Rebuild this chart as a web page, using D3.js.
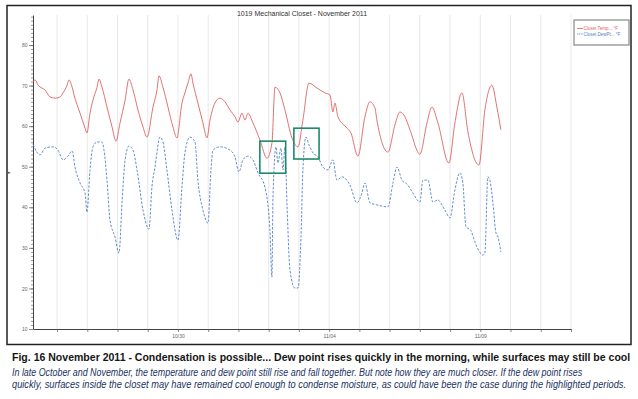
<!DOCTYPE html>
<html>
<head>
<meta charset="utf-8">
<script src="https://cdn.jsdelivr.net/npm/d3@7"></script>
<style>
  body { margin: 0; background: #fff; }
  svg { display: block; }
</style>
</head>
<body>
<svg width="638" height="399"></svg>
<script>
// Readings taken from the logger chart (times in 2011, local)
const tempTimes = ["10-25 05:00","10-25 06:30","10-25 09:00","10-25 14:30","10-25 18:30","10-25 22:30",
  "10-26 02:20","10-26 04:45","10-26 08:00","10-26 09:30","10-26 12:00","10-26 13:30","10-26 18:15","10-26 22:15","10-26 23:45",
  "10-27 02:10","10-27 04:30","10-27 07:45","10-27 09:20","10-27 11:40","10-27 15:40","10-27 19:40","10-27 22:50",
  "10-28 02:00","10-28 06:00","10-28 09:05","10-28 12:20","10-28 16:15","10-28 20:15","10-28 23:25",
  "10-29 04:10","10-29 07:20","10-29 08:55","10-29 12:05","10-29 16:05","10-29 20:00","10-29 23:10",
  "10-30 03:10","10-30 05:30","10-30 07:55","10-30 10:20","10-30 11:55","10-30 15:50","10-30 19:50","10-30 23:00",
  "10-31 01:25","10-31 05:20","10-31 09:20","10-31 13:20","10-31 17:15","10-31 21:15","10-31 23:35",
  "11-01 02:50","11-01 05:10","11-01 07:35","11-01 11:30","11-01 17:05","11-01 22:40",
  "11-02 02:35","11-02 05:00","11-02 09:00","11-02 12:55","11-02 18:30","11-02 23:15",
  "11-03 03:10","11-03 08:00","11-03 14:20","11-03 20:40",
  "11-04 00:40","11-04 03:00","11-04 04:35","11-04 07:00","11-04 13:20","11-04 17:20","11-04 22:50",
  "11-05 04:25","11-05 08:25","11-05 12:20","11-05 13:55","11-05 22:40",
  "11-06 04:15","11-06 08:10","11-06 12:10","11-06 16:10",
  "11-07 00:05","11-07 05:40","11-07 09:35","11-07 14:20","11-07 23:05",
  "11-08 03:50","11-08 09:25","11-08 14:10","11-08 22:55",
  "11-09 03:40","11-09 09:12","11-09 13:10","11-09 16:20"];
const tempValues = [70.9,71.4,70.1,68.9,67.2,66.9,
  67.2,68.2,70.1,71.4,69.6,67.7,63.2,59.5,58.3,
  63.2,66.4,69.6,71.6,69.6,64.7,59.8,56.3,
  60.8,66.4,71.6,68.9,64.0,59.8,57.3,
  64.7,68.9,72.4,69.6,64.7,59.8,57.1,
  65.7,68.2,70.6,72.9,70.6,65.7,60.8,57.1,
  61.5,65.7,66.9,66.0,64.0,62.3,61.0,
  63.2,61.5,63.2,60.8,56.6,52.1,
  55.8,69.6,68.2,64.0,57.1,54.9,
  61.5,70.6,69.4,68.2,
  67.7,63.5,65.7,62.3,59.8,58.3,52.6,
  62.3,66.0,64.5,61.5,53.6,
  60.3,63.5,62.3,59.1,
  53.1,60.8,64.7,60.8,50.9,
  60.8,68.2,58.6,50.4,
  64.0,70.1,64.7,59.1];

const dewTimes = ["10-25 05:00","10-25 10:30","10-25 14:30","10-25 20:50",
  "10-26 00:45","10-26 04:45","10-26 08:40","10-26 12:00","10-26 14:15","10-26 18:15","10-26 22:15","10-26 23:45",
  "10-27 02:10","10-27 04:30","10-27 07:45","10-27 11:40","10-27 13:15","10-27 15:40","10-27 18:00","10-27 22:00",
  "10-28 01:10","10-28 03:35","10-28 06:00","10-28 09:05","10-28 12:20","10-28 15:30","10-28 20:15",
  "10-29 01:00","10-29 03:20","10-29 05:45","10-29 09:45","10-29 12:05","10-29 15:15","10-29 19:15",
  "10-30 00:00","10-30 03:10","10-30 05:30","10-30 09:30","10-30 13:30","10-30 15:50","10-30 19:50","10-30 23:50",
  "10-31 02:10","10-31 03:50","10-31 09:20","10-31 17:15","10-31 21:15",
  "11-01 00:25","11-01 03:35","11-01 07:35","11-01 11:30","11-01 15:30","11-01 21:00",
  "11-02 01:00","11-02 02:35","11-02 03:25","11-02 05:50","11-02 07:20","11-02 09:45","11-02 11:20","11-02 12:55","11-02 14:30","11-02 16:55","11-02 20:50","11-02 23:15",
  "11-03 01:40","11-03 03:10","11-03 05:35","11-03 08:00","11-03 11:10","11-03 15:10","11-03 19:05","11-03 23:05",
  "11-04 03:00","11-04 06:10","11-04 10:10","11-04 16:30","11-04 22:05",
  "11-05 02:00","11-05 04:25","11-05 08:25","11-05 13:55","11-05 22:40",
  "11-06 02:40","11-06 05:50","11-06 09:50","11-06 14:30","11-06 18:30",
  "11-07 00:05","11-07 02:25","11-07 06:25","11-07 10:25","11-07 14:20","11-07 19:55","11-07 23:55",
  "11-08 03:50","11-08 07:50","11-08 10:10","11-08 12:35","11-08 15:45","11-08 21:20",
  "11-09 02:05","11-09 03:40","11-09 06:00","11-09 07:35","11-09 10:00","11-09 12:25","11-09 14:00","11-09 16:20"];
const dewValues = [55.5,52.9,54.6,54.9,
  54.1,51.7,52.6,53.9,49.9,46.0,43.5,38.8,
  49.2,54.9,56.1,56.1,54.1,46.7,36.9,32.7,
  28.7,41.1,51.7,55.1,54.1,49.2,39.3,
  34.6,45.0,49.9,57.3,56.1,49.2,39.3,
  31.9,45.0,53.4,57.3,56.1,46.7,39.3,36.1,
  49.2,54.1,54.9,54.1,52.4,
  48.7,51.7,52.6,51.7,48.5,45.0,
  34.4,22.8,42.5,54.9,50.9,54.6,49.2,54.9,41.1,24.5,20.1,20.1,
  32.7,49.2,57.3,55.4,53.4,52.4,49.9,49.2,
  51.7,46.7,47.5,45.5,41.1,
  43.5,46.0,41.1,40.6,40.1,
  46.0,49.9,46.7,45.5,43.5,
  41.3,46.7,46.7,41.3,41.8,39.3,37.4,
  44.3,48.5,46.0,35.1,34.6,30.2,
  28.2,28.8,47.5,46.7,41.1,33.7,32.7,29.0];

const yTicks = [10, 20, 30, 40, 50, 60, 70, 80];
const xLabelDays = ["10/30", "11/04", "11/09"];
// highlighted periods: [start, end, low, high]
const highlights = [["11-01 17:00", "11-02 13:30", 48.4, 56.3], ["11-02 20:00", "11-03 16:00", 51.9, 59.5]];

const parse = d3.timeParse("%Y-%m-%d %H:%M");
const p = s => parse("2011-" + s);
const temp = tempTimes.map((t, i) => ({ t: p(t), v: tempValues[i] }));
const dew = dewTimes.map((t, i) => ({ t: p(t), v: dewValues[i] }));

const svg = d3.select("svg");

// outer frame
svg.append("rect")
    .attr("x", 7).attr("y", 5.5)
    .attr("width", 624).attr("height", 339)
    .attr("fill", "none")
    .attr("stroke", "#222")
    .attr("stroke-width", 1.5);

const x = d3.scaleTime()
    .domain([p("10-25 04:55"), p("11-12 00:00")])
    .range([33, 571]);

const y = d3.scaleLinear()
    .domain([10, 87.4])
    .range([329, 15]);

// day gridlines
const days = d3.timeDay.range(p("10-26 00:00"), p("11-12 00:01"));
svg.append("g")
    .selectAll("line")
    .data(days)
    .join("line")
    .attr("x1", d => x(d)).attr("x2", d => x(d))
    .attr("y1", 15).attr("y2", 329)
    .attr("stroke", "#e2e2e2")
    .attr("stroke-width", 0.8);

// y axis: minor then major ticks
svg.append("g")
    .attr("transform", "translate(33,0)")
    .call(d3.axisLeft(y).tickValues(d3.range(11, 88)).tickSize(2).tickFormat("").tickSizeOuter(0))
    .call(g => g.select(".domain").remove())
    .call(g => g.selectAll("line").attr("stroke", "#555").attr("stroke-width", 0.6));

svg.append("g")
    .attr("transform", "translate(33,0)")
    .call(d3.axisLeft(y).tickValues(yTicks).tickSize(4).tickSizeOuter(0).tickPadding(1.5))
    .call(g => g.select(".domain").attr("stroke", "#444").attr("stroke-width", 1))
    .call(g => g.selectAll("line").attr("stroke", "#555").attr("stroke-width", 0.7))
    .call(g => g.selectAll("text").attr("fill", "#666").style("font", "5px 'Liberation Sans', Arial, sans-serif"));

// x axis
const fmt = d3.timeFormat("%m/%d");
svg.append("g")
    .attr("transform", "translate(0,329)")
    .call(d3.axisBottom(x).tickValues(days).tickSize(3).tickSizeOuter(0).tickPadding(2)
        .tickFormat(d => xLabelDays.includes(fmt(d)) ? fmt(d) : ""))
    .call(g => g.select(".domain").attr("stroke", "#444").attr("stroke-width", 1))
    .call(g => g.selectAll("line").attr("stroke", "#555").attr("stroke-width", 0.7))
    .call(g => g.selectAll("text").attr("fill", "#666").style("font", "5px 'Liberation Sans', Arial, sans-serif"));

// chart title
svg.append("text")
    .attr("x", 302).attr("y", 15.5)
    .attr("text-anchor", "middle")
    .attr("fill", "#333")
    .style("font", "7px 'Liberation Sans', Arial, sans-serif")
    .text("1019 Mechanical Closet - November 2011");

// small marker left of the y axis
svg.append("text")
    .attr("x", 8).attr("y", 174)
    .attr("fill", "#555")
    .style("font", "5px 'DejaVu Sans', sans-serif")
    .text("▸");

const line = d3.line()
    .curve(d3.curveMonotoneX)
    .x(d => x(d.t))
    .y(d => y(d.v));

svg.append("path")
    .datum(temp)
    .attr("d", line)
    .attr("fill", "none")
    .attr("stroke", "#de6262")
    .attr("stroke-width", 0.9);

svg.append("path")
    .datum(dew)
    .attr("d", line)
    .attr("fill", "none")
    .attr("stroke", "#5580c6")
    .attr("stroke-width", 0.9)
    .attr("stroke-dasharray", "2.5,1.5");

// highlighted periods
svg.append("g")
    .selectAll("rect")
    .data(highlights)
    .join("rect")
    .attr("x", d => x(p(d[0])))
    .attr("y", d => y(d[3]))
    .attr("width", d => x(p(d[1])) - x(p(d[0])))
    .attr("height", d => y(d[2]) - y(d[3]))
    .attr("fill", "none")
    .attr("stroke", "#1b8a6b")
    .attr("stroke-width", 1.6);

// legend
const legend = svg.append("g");
legend.append("rect")
    .attr("x", 574).attr("y", 20)
    .attr("width", 55).attr("height", 25)
    .attr("fill", "#fff")
    .attr("stroke", "#888")
    .attr("stroke-width", 1.2);

[["Closet Temp... °F", "#de6262", null], ["Closet DewPt... °F", "#5580c6", "1.2,0.6"]].forEach((d, i) => {
    legend.append("line")
        .attr("x1", 577).attr("x2", 583)
        .attr("y1", 28.5 + i * 5.5).attr("y2", 28.5 + i * 5.5)
        .attr("stroke", d[1])
        .attr("stroke-width", 0.8)
        .attr("stroke-dasharray", d[2]);
    legend.append("text")
        .attr("x", 583.5).attr("y", 30 + i * 5.5)
        .attr("fill", d[1])
        .style("font", "4.5px 'Liberation Sans', Arial, sans-serif")
        .text(d[0]);
});

// caption: squeeze each line horizontally to the width it has in the figure
function caption(txt, yPos, width, font, color) {
    const g = svg.append("g");
    const t = g.append("text")
        .attr("x", 0).attr("y", 0)
        .attr("fill", color)
        .style("font", font)
        .text(txt);
    const sx = width / t.node().getComputedTextLength();
    g.attr("transform", `translate(12,${yPos}) scale(${sx},1)`);
}

caption("Fig. 16 November 2011 - Condensation is possible... Dew point rises quickly in the morning, while surfaces may still be cool",
    360.5, 619, "bold 11.5px 'Liberation Sans', Arial, sans-serif", "#151515");
caption("In late October and November, the temperature and dew point still rise and fall together. But note how they are much closer. If the dew point rises",
    375.5, 571, "italic 10px 'Liberation Sans', Arial, sans-serif", "#22325f");
caption("quickly, surfaces inside the closet may have remained cool enough to condense moisture, as could have been the case during the highlighted periods.",
    387.5, 615, "italic 10px 'Liberation Sans', Arial, sans-serif", "#22325f");
</script>
</body>
</html>
